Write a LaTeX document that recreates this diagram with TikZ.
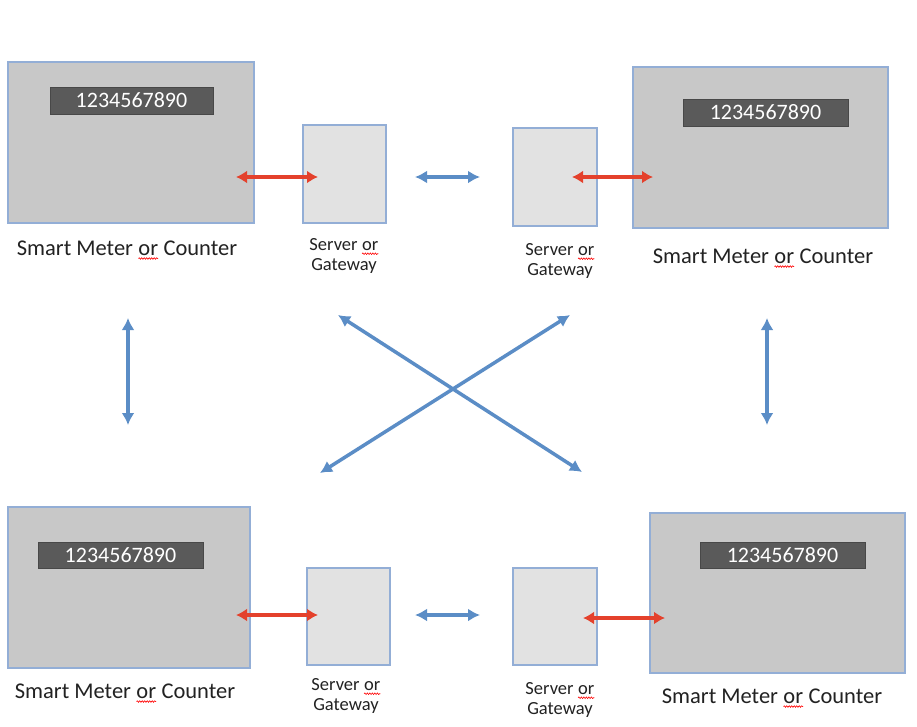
\documentclass[tikz,border=0pt]{standalone}
\usepackage{fontspec}
\setmainfont{Carlito}
\usetikzlibrary{arrows.meta,decorations.pathmorphing}
\definecolor{meterfill}{HTML}{C8C8C8}
\definecolor{serverfill}{HTML}{E2E2E2}
\definecolor{edge}{HTML}{93AED6}
\definecolor{dispfill}{HTML}{5A5A5A}
\definecolor{redarr}{HTML}{E4412C}
\definecolor{bluearr}{HTML}{5B8DC6}
\definecolor{txt}{HTML}{222222}
\tikzset{squig/.style={draw=red,line width=0.6pt,decorate,decoration={snake,amplitude=0.8pt,segment length=2.5pt}}}
\newcommand\wv[1]{\tikz[baseline=(w.base)]{\node[inner sep=0pt,outer sep=0pt,draw=none,fill=none](w){#1};\draw[squig] ([yshift=-3.5pt]w.base west) -- ([yshift=-3.5pt]w.base east);}}
\begin{document}
\begin{tikzpicture}[x=1pt,y=-1pt,
  meter/.style={draw=edge,line width=2pt,fill=meterfill,inner sep=0pt,outer sep=0pt},
  server/.style={draw=edge,line width=2pt,fill=serverfill,inner sep=0pt,outer sep=0pt},
  disp/.style={fill=dispfill,draw=dispfill!80!black,line width=0.5pt,text=white,inner sep=0pt,outer sep=0pt,font=\fontsize{22pt}{24pt}\selectfont},
  mlabel/.style={text=txt,inner sep=0pt,font=\fontsize{22.5pt}{24pt}\selectfont},
  slabel/.style={text=txt,inner sep=0pt,align=center,font=\fontsize{18.5pt}{20.5pt}\selectfont},
  redline/.style={draw=redarr,line width=3.6pt,{Latex[length=11pt,width=13pt]}-{Latex[length=11pt,width=13pt]}},
  blueline/.style={draw=bluearr,line width=3.5pt,{Latex[length=12pt,width=13pt]}-{Latex[length=12pt,width=13pt]}}
]
\useasboundingbox[fill=white] (0,0) rectangle (917,726);

% top left
\node[meter,minimum width=246pt,minimum height=161pt] (m1) at (131,142.5) {};
\node[disp,minimum width=163pt,minimum height=27pt] (d1) at (131.5,100.5) {1234567890};
\node[server,minimum width=83pt,minimum height=98pt] (s1) at (344.5,174) {};
\node[mlabel,anchor=base] (l1) at (127,255) {Smart Meter \wv{or} Counter};
\node[slabel,anchor=north] (g1) at (344,238) {Server \wv{or}\\Gateway};

% top right
\node[server,minimum width=84pt,minimum height=98pt] (s2) at (555,177) {};
\node[meter,minimum width=255pt,minimum height=161pt] (m2) at (760.5,147.5) {};
\node[disp,minimum width=165pt,minimum height=27pt] (d2) at (765.5,112.5) {1234567890};
\node[mlabel,anchor=base] (l2) at (763,263) {Smart Meter \wv{or} Counter};
\node[slabel,anchor=north] (g2) at (560,243) {Server \wv{or}\\Gateway};

% bottom left
\node[meter,minimum width=242pt,minimum height=161pt] (m3) at (129,587.5) {};
\node[disp,minimum width=165pt,minimum height=26pt] (d3) at (120.5,555) {1234567890};
\node[server,minimum width=83pt,minimum height=97pt] (s3) at (348.5,616.5) {};
\node[mlabel,anchor=base] (l3) at (125,698) {Smart Meter \wv{or} Counter};
\node[slabel,anchor=north] (g3) at (346,678) {Server \wv{or}\\Gateway};

% bottom right
\node[server,minimum width=84pt,minimum height=97pt] (s4) at (555,616.5) {};
\node[meter,minimum width=255pt,minimum height=160pt] (m4) at (777.5,593) {};
\node[disp,minimum width=165pt,minimum height=26pt] (d4) at (782.5,555) {1234567890};
\node[mlabel,anchor=base] (l4) at (772,703) {Smart Meter \wv{or} Counter};
\node[slabel,anchor=north] (g4) at (560,682) {Server \wv{or}\\Gateway};

% red links meter <-> server
\draw[redline] ([xshift=-18pt,yshift=-34.5pt]m1.east) -- ([xshift=15pt,yshift=-3pt]s1.west);
\draw[redline] ([xshift=-25pt]s2.east) -- ([xshift=20pt,yshift=-29.5pt]m2.west);
\draw[redline] ([xshift=-14pt,yshift=-27.5pt]m3.east) -- ([xshift=11pt,yshift=1.5pt]s3.west);
\draw[redline] ([xshift=-14pt,yshift=-1.5pt]s4.east) -- ([xshift=15pt,yshift=-25pt]m4.west);

% blue links server <-> server
\draw[blueline,shorten <=29pt,shorten >=33pt] (s1.east |- s2.west) -- (s2.west);
\draw[blueline,shorten <=25pt,shorten >=33pt] (s3.east |- 0,615) -- (s4.west |- 0,615);

% vertical and crossing links
\coordinate (v1a) at (128,318); \coordinate (v1b) at (128,425);
\coordinate (v2a) at (767,318); \coordinate (v2b) at (767,425);
\coordinate (xa1) at (338,315); \coordinate (xa2) at (582,472);
\coordinate (xb1) at (570,315); \coordinate (xb2) at (320,473);
\draw[blueline] (v1a) -- (v1b);
\draw[blueline] (v2a) -- (v2b);
\draw[blueline] (xa1) -- (xa2);
\draw[blueline] (xb1) -- (xb2);
\end{tikzpicture}
\end{document}
